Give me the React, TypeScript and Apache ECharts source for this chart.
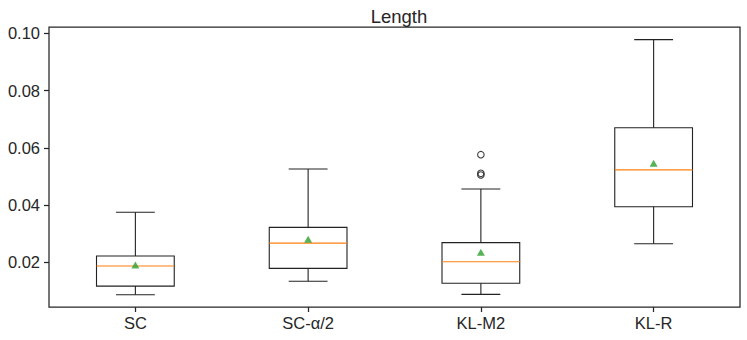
import React, { useEffect, useRef } from "react";
import * as echarts from "echarts";

const categories = ["SC", "SC-α/2", "KL-M2", "KL-R"];
// [whiskerLow, Q1, median, Q3, whiskerHigh]
const boxStats = [
  [0.0087, 0.0117, 0.0187, 0.0222, 0.0375],
  [0.0134, 0.0179, 0.0267, 0.0322, 0.0526],
  [0.0088, 0.0127, 0.0202, 0.0269, 0.0456],
  [0.0265, 0.0394, 0.0523, 0.0670, 0.0978],
];
const means = [0.0191, 0.0281, 0.0235, 0.0546];
const outliers: [number, number][] = [
  [2, 0.0576],
  [2, 0.0511],
  [2, 0.0505],
];
const yTicks = [0.02, 0.04, 0.06, 0.08, 0.1];
const yMin = 0.0044;
const yMax = 0.1022;

const TEXT = "#262626";
const LINE = "#262626";

export default function App() {
  const ref = useRef<HTMLDivElement>(null);
  useEffect(() => {
    if (!ref.current) return;
    const chart = echarts.init(ref.current, null, { renderer: "svg" });
    const font = "Liberation Sans, Arial, sans-serif";
    chart.setOption({
      animation: false,
      backgroundColor: "#ffffff",
      title: {
        text: "Length",
        left: 394,
        textAlign: "center",
        top: 2,
        textStyle: { fontFamily: font, fontSize: 18.5, fontWeight: "normal", color: TEXT },
      },
      grid: {
        left: 49,
        top: 27,
        right: 7,
        bottom: 33,
        show: true,
        borderColor: LINE,
        borderWidth: 1.25,
        backgroundColor: "transparent",
      },
      xAxis: {
        type: "category",
        data: categories,
        boundaryGap: true,
        axisLine: { show: false },
        axisTick: { show: true, alignWithLabel: true, length: 5, lineStyle: { color: LINE, width: 1.25 } },
        axisLabel: { color: TEXT, fontFamily: font, fontSize: 16.5, margin: 7 },
        splitLine: { show: false },
      },
      yAxis: {
        type: "value",
        min: yMin,
        max: yMax,
        axisLine: { show: false },
        axisTick: { show: true, length: 5, customValues: yTicks, lineStyle: { color: LINE, width: 1.25 } },
        axisLabel: {
          color: TEXT,
          fontFamily: font,
          fontSize: 16.5,
          margin: 9,
          customValues: yTicks,
          formatter: (v: number) => v.toFixed(2),
        },
        splitLine: { show: false },
      },
      series: [
        {
          type: "custom",
          data: boxStats.map((s, i) => [i, ...s]),
          encode: { x: 0, y: [1, 2, 3, 4, 5] },
          z: 2,
          renderItem: (params: any, api: any) => {
            const i = api.value(0);
            const band = api.size([1, 0])[0];
            const half = band * 0.225;
            const cap = half / 2;
            const p = (k: number) => api.coord([i, api.value(k)]);
            const low = p(1), q1 = p(2), med = p(3), q3 = p(4), high = p(5);
            const cx = low[0];
            const ls = { stroke: "#222", lineWidth: 1.1, fill: null };
            return {
              type: "group",
              children: [
                { type: "line", shape: { x1: cx, y1: high[1], x2: cx, y2: q3[1] }, style: ls },
                { type: "line", shape: { x1: cx, y1: q1[1], x2: cx, y2: low[1] }, style: ls },
                { type: "line", shape: { x1: cx - cap, y1: high[1], x2: cx + cap, y2: high[1] }, style: ls },
                { type: "line", shape: { x1: cx - cap, y1: low[1], x2: cx + cap, y2: low[1] }, style: ls },
                {
                  type: "rect",
                  shape: { x: cx - half, y: q3[1], width: half * 2, height: q1[1] - q3[1] },
                  style: { stroke: "#222", lineWidth: 1.1, fill: "rgba(0,0,0,0)" },
                },
                {
                  type: "line",
                  shape: { x1: cx - half, y1: med[1], x2: cx + half, y2: med[1] },
                  style: { stroke: "#ff7f0e", lineWidth: 1.1 },
                },
              ],
            };
          },
        },
        {
          type: "scatter",
          data: means.map((m, i) => [i, m]),
          symbol: "triangle",
          symbolSize: [8, 7],
          itemStyle: { color: "#2ca02c" },
          z: 3,
        },
        {
          type: "scatter",
          data: outliers,
          symbol: "circle",
          symbolSize: 6.5,
          itemStyle: { color: "rgba(0,0,0,0)", borderColor: "#111", borderWidth: 1.1 },
          z: 3,
        },
      ],
    });
    return () => chart.dispose();
  }, []);
  return (
    <div
      ref={ref}
      style={{ position: "fixed", left: 0, top: 0, width: 747, height: 340 }}
    />
  );
}
